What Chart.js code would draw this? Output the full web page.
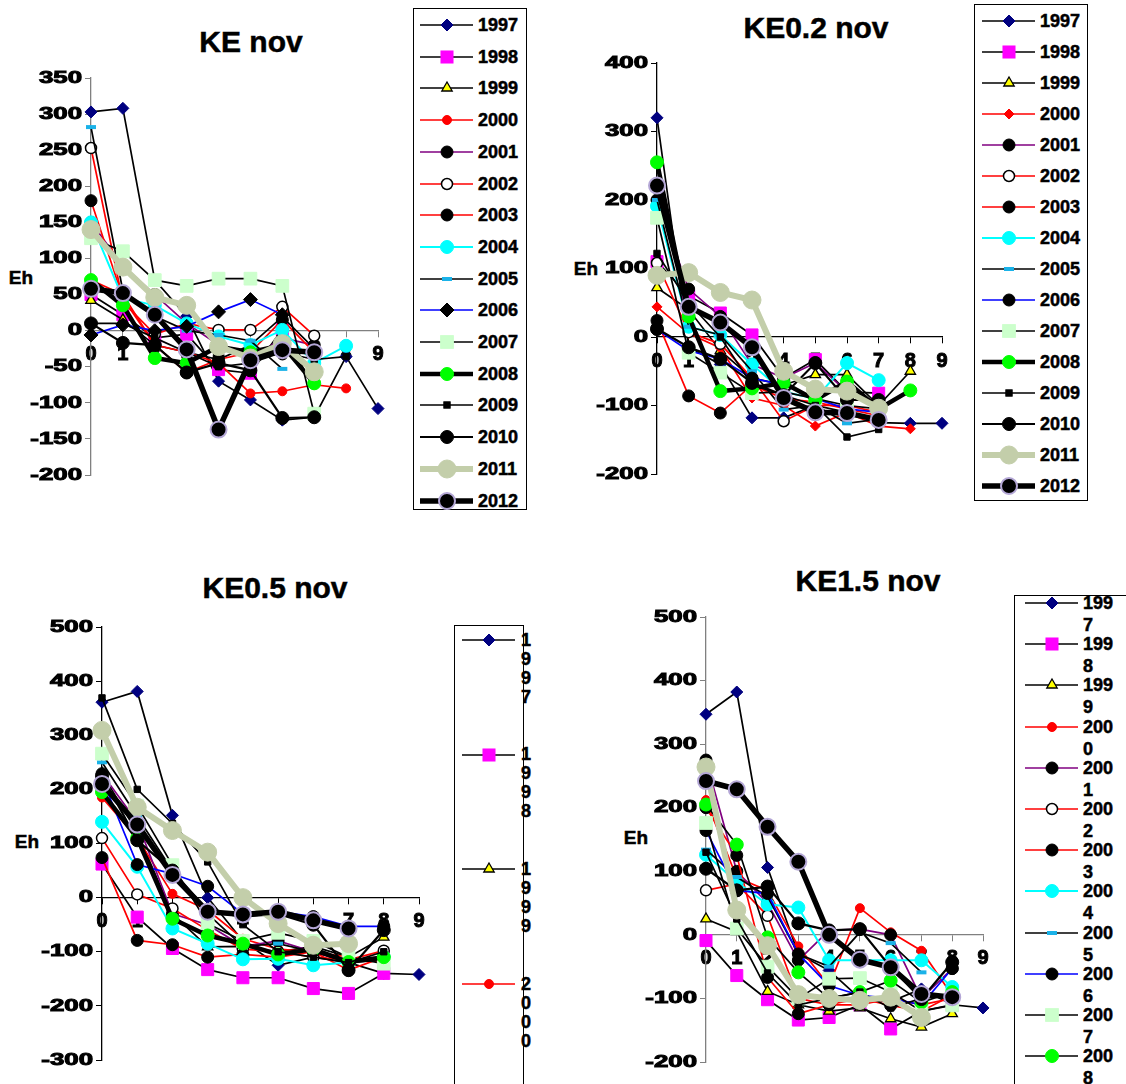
<!DOCTYPE html>
<html>
<head>
<meta charset="utf-8">
<script src="https://cdn.jsdelivr.net/npm/chart.js@4.4.1/dist/chart.umd.min.js"></script>
<style>
   body { margin: 0; width: 1126px; height: 1084px; overflow: hidden; background: #fff; position: relative;
          font-family: 'Liberation Sans', Arial, sans-serif; }
   canvas, .title, .eh, .legend { position: absolute; }
   .title { font-weight: bold; font-size: 30px; line-height: 1; transform: translate(-50%, -50%); white-space: nowrap;
            -webkit-text-stroke: 0.5px #000; }
   .eh { font-weight: bold; font-size: 19px; line-height: 1; transform: translate(-50%, -50%); -webkit-text-stroke: 0.5px #000; }
   .legend { border: 1px solid #000; background: #fff; box-sizing: border-box; }
   .item { position: absolute; left: 0; top: 0; }
   .item svg { position: absolute; }
   .item span { position: absolute; font-weight: bold; font-size: 18px; word-break: break-all; -webkit-text-stroke: 0.5px #000; }
</style>
</head>
<body>
<div class="title" style="left:251px; top:42px">KE nov</div>
<div class="title" style="left:816px; top:28px">KE0.2 nov</div>
<div class="title" style="left:275px; top:588px">KE0.5 nov</div>
<div class="title" style="left:868px; top:581px">KE1.5 nov</div>
<div class="eh" style="left:21px; top:277px">Eh</div>
<div class="eh" style="left:586px; top:268px">Eh</div>
<div class="eh" style="left:27px; top:841px">Eh</div>
<div class="eh" style="left:636px; top:837px">Eh</div>
<canvas id="c0" width="400" height="440" style="left:0px; top:60px"></canvas>
<canvas id="c1" width="400" height="450" style="left:560px; top:45px"></canvas>
<canvas id="c2" width="440" height="479" style="left:0px; top:605px"></canvas>
<canvas id="c3" width="410" height="484" style="left:600px; top:600px"></canvas>
<script>
const years = ['1997', '1998', '1999', '2000', '2001', '2002', '2003', '2004',
   '2005', '2006', '2007', '2008', '2009', '2010', '2011', '2012'];
const xLabels = ['0', '1', '2', '3', '4', '5', '6', '7', '8', '9'];

// one row per year, 1997 .. 2012
const keNov = [
   [303, 308, 70, 20, -70, -96, -124, -120, -36, -108],
   [50, 22, -10, -5, -54, -59, 2],
   [42, 15, -20, -30, -40, -20, 19, -25],
   [70, 50, -20, -30, -45, -87, -84, -75, -80],
   [150, 90, 50, 10, -20, -40, -10, -20],
   [253, 40, -5, 10, 1, 1, 33, -7],
   [180, 45, -20, -58, -40, -30, 15, -30],
   [150, 45, 35, 10, -8, -20, 1, -45, -21],
   [282, 55, 20, 0, -6, -14, -53],
   [-6, 8, 0, 6, 26, 43, 22],
   [128, 110, 70, 62, 72, 72, 62, -115],
   [70, 35, -38, -45, -22, -30, -20, -73],
   [10, 10, -10, -30, -50, -45, -30, -40, -36],
   [10, -17, -20, -58, -45, -55, -121, -120],
   [140, 88, 46, 35, -22, -38, -18, -57],
   [58, 52, 22, -26, -137, -41, -27, -30]
];
const ke02Nov = [
   [320, -15, -40, -118, -118, -100, -110, -125, -126, -126],
   [110, 60, 35, 3, -60, -33, -80, -82],
   [72, 40, -20, -60, -70, -55, -55, -100, -50],
   [44, 5, -16, -89, -100, -130, -110, -130, -134],
   [200, 70, 30, -40, -60, -38, -80, -95],
   [108, 7, -10, -60, -123, -100, -100, -110],
   [24, -86, -111, -70, -90, -95, -105, -115],
   [191, 15, 3, -40, -80, -90, -38, -63],
   [200, 15, 3, -50, -106, -100, -126, -120],
   [11, -20, -32, -60, -70, -90, -105, -110],
   [174, -23, -52, -82, -80, -90, -100, -105],
   [255, 30, -79, -75, -67, -92, -65, -105, -78],
   [122, 50, 0, -70, -85, -100, -146, -135],
   [12, -15, -32, -67, -85, -38, -92, -92],
   [90, 94, 65, 54, -50, -76, -79, -104],
   [221, 44, 21, -15, -89, -110, -111, -121]
];
const ke05Nov = [
   [361, 381, 152, 0, -80, -125, -110, -120, -140, -142],
   [62, -36, -94, -133, -148, -148, -168, -177, -140],
   [230, 120, -30, -91, -90, -100, -90, -110, -73],
   [185, 110, 7, -23, -76, -95, -100, -110, -120],
   [229, 140, -30, -50, -90, -80, -100, -120, -110],
   [110, 6, -20, -60, -95, -100, -110, -115, -98],
   [74, -79, -87, -110, -105, -110, -100, -134, -110],
   [140, 57, -57, -85, -114, -113, -125, -120, -110],
   [250, 150, 50, -30, -90, -85, -100, -120, -115],
   [220, 61, 44, 21, -30, -26, -35, -53, -53],
   [266, 170, 60, -48, -80, -65, -80, -110, -122],
   [195, 110, -39, -70, -85, -105, -95, -119, -110],
   [369, 200, 137, 66, -50, -100, -110, -120, -100],
   [225, 106, 50, -25, -35, -30, -50, -134, -60],
   [309, 167, 124, 84, 0, -48, -88, -85],
   [210, 135, 42, -26, -31, -26, -42, -57]
];
const ke15Nov = [
   [347, 382, 106, -30, -56, -100, -105, -85, -110, -115],
   [-9, -64, -102, -134, -130, -110, -148, -120, -110],
   [25, 5, -89, -110, -120, -115, -132, -145, -124],
   [212, 90, 70, -18, -80, 42, 4, -25, -95],
   [275, 100, 50, -40, 7, 9, 0, -100, -53],
   [70, 80, 30, -100, -110, -110, -100, -110, -100],
   [200, 125, -67, -124, -110, -100, -111, -120, -95],
   [126, 83, 48, 43, -40, -40, -40, -40, -82],
   [134, 91, 60, -30, -50, 4, -13, -59],
   [164, 70, 65, -30, -80, -95, -100, -110, -53],
   [176, 10, -50, -100, -69, -68, -90, -120, -111],
   [205, 142, -4, -59, -100, -90, -72, -106, -90],
   [130, 25, -60, -110, -100, -90, -115, -100, -95],
   [104, 70, 76, 18, 7, 9, -51, -101, -43],
   [264, 39, -17, -94, -100, -103, -98, -130],
   [242, 229, 170, 115, 0, -39, -51, -93, -98]
];

// line and marker look of each year (same order as years)
const seriesStyle = [
   { line: '#000', width: 1.7, point: 'rectRot', radius: 6, fill: '#000080', stroke: '#000080', sw: 1 },
   { line: '#000', width: 1.7, point: 'rect', radius: 8.5, fill: '#ff00ff', stroke: '#ff00ff', sw: 1 },
   { line: '#000', width: 1.7, point: 'triangle', radius: 6, fill: '#ffff00', stroke: '#000', sw: 1.3 },
   { line: '#ff0000', width: 1.7, point: 'circle', radius: 4.5, fill: '#ff0000', stroke: '#ff0000', sw: 1 },
   { line: '#800080', width: 1.7, point: 'circle', radius: 6, fill: '#000', stroke: '#000', sw: 1 },
   { line: '#ff0000', width: 1.7, point: 'circle', radius: 5.5, fill: '#fff', stroke: '#000', sw: 1.5 },
   { line: '#ff0000', width: 1.7, point: 'circle', radius: 6, fill: '#000', stroke: '#000', sw: 1 },
   { line: '#00ffff', width: 2, point: 'circle', radius: 6.5, fill: '#00ffff', stroke: '#00ffff', sw: 1 },
   { line: '#000', width: 1.7, point: 'line', radius: 5, fill: '#33ccff', stroke: '#1ab2e8', sw: 4 },
   { line: '#0000ff', width: 1.7, point: 'circle', radius: 6, fill: '#000', stroke: '#000', sw: 1 },
   { line: '#000', width: 1.7, point: 'rect', radius: 9, fill: '#ccffcc', stroke: '#ccffcc', sw: 1 },
   { line: '#000', width: 4.5, point: 'circle', radius: 6.5, fill: '#00ff00', stroke: '#00ff00', sw: 1 },
   { line: '#000', width: 1.7, point: 'rect', radius: 4.5, fill: '#000', stroke: '#000', sw: 1 },
   { line: '#000', width: 2.2, point: 'circle', radius: 6.5, fill: '#000', stroke: '#000', sw: 1 },
   { line: '#c3ceaa', width: 6, point: 'circle', radius: 9, fill: '#c3ceaa', stroke: '#c3ceaa', sw: 1 },
   { line: '#000', width: 5.5, point: 'circle', radius: 8, fill: '#000', stroke: '#b4a7d6', sw: 2 }
];

// per chart: rows, y range, axis colour, canvas padding, style overrides, legend layout
const charts = [
   { id: 'c0', rows: keNov, min: -200, max: 350, step: 50, axis: '#808080', yWidth: 91,
     pad: { top: 18, right: 22, bottom: 25 }, over: { '2006': { point: 'rectRot', radius: 7 } },
     legend: { left: 413, top: 8, width: 114, height: 502, firstY: 24, step: 31.7, lineX: 420, textX: 478, textW: 60, lh: 20 } },
   { id: 'c1', rows: ke02Nov, min: -200, max: 400, step: 100, axis: '#000', yWidth: 97,
     pad: { top: 18, right: 18, bottom: 21 }, over: { '2000': { point: 'rectRot', radius: 5 } },
     legend: { left: 974, top: 4, width: 114, height: 497, firstY: 20, step: 31, lineX: 982, textX: 1040, textW: 60, lh: 20 } },
   { id: 'c2', rows: ke05Nov, min: -300, max: 500, step: 100, axis: '#000', yWidth: 102,
     pad: { top: 22, right: 21, bottom: 24 }, over: {},
     legend: { left: 454, top: 625, width: 70, height: 480, firstY: 639, step: 114.7, lineX: 462, textX: 521, textW: 12, lh: 19 } },
   { id: 'c3', rows: ke15Nov, min: -200, max: 500, step: 100, axis: '#808080', yWidth: 106,
     pad: { top: 17, right: 27, bottom: 22 }, over: { '2008': { width: 1.7 } },
     legend: { left: 1014, top: 595, width: 130, height: 500, firstY: 602, step: 41.2, lineX: 1025, textX: 1083, textW: 34, lh: 22 } }
];

// value axis whose labels are drawn stretched sideways, like the old spreadsheet export
class WideScale extends Chart.LinearScale {
   drawLabels(chartArea) {
      const ctx = this.ctx;
      const ax = this.right - this.options.grid.tickLength - this.options.ticks.padding;
      ctx.save();
      ctx.translate(ax, 0);
      ctx.scale(1.52, 1);
      ctx.translate(-ax, 0);
      super.drawLabels(chartArea);
      ctx.restore();
   }
}
WideScale.id = 'wide';
WideScale.defaults = Chart.LinearScale.defaults;
Chart.register(WideScale);

function styleFor(i, over) {
   return Object.assign({}, seriesStyle[i], over[years[i]] || {});
}

function makeDatasets(cfg) {
   return years.map((year, i) => {
      const st = styleFor(i, cfg.over);
      return {
         label: year,
         data: cfg.rows[i],
         borderColor: st.line,
         borderWidth: st.width,
         pointStyle: st.point,
         pointRadius: st.radius,
         pointHoverRadius: st.radius,
         pointBackgroundColor: st.fill,
         pointBorderColor: st.stroke,
         pointBorderWidth: st.sw,
         tension: 0,
         clip: false,
         order: years.length - i
      };
   });
}

function markerSvg(st, cx, cy) {
   const r = st.radius;
   if (st.point == 'circle')
      return `<circle cx="${cx}" cy="${cy}" r="${r}" fill="${st.fill}" stroke="${st.stroke}" stroke-width="${st.sw}"/>`;
   if (st.point == 'rect') {
      const s = r * Math.SQRT1_2;
      return `<rect x="${cx - s}" y="${cy - s}" width="${2 * s}" height="${2 * s}" fill="${st.fill}" stroke="${st.stroke}" stroke-width="${st.sw}"/>`;
   }
   if (st.point == 'rectRot')
      return `<polygon points="${cx},${cy - r} ${cx + r},${cy} ${cx},${cy + r} ${cx - r},${cy}" fill="${st.fill}" stroke="${st.stroke}" stroke-width="${st.sw}"/>`;
   if (st.point == 'triangle') {
      const dx = r * Math.sin(Math.PI / 3), dy = r * Math.cos(Math.PI / 3);
      return `<polygon points="${cx},${cy - r} ${cx + dx},${cy + dy} ${cx - dx},${cy + dy}" fill="${st.fill}" stroke="${st.stroke}" stroke-width="${st.sw}"/>`;
   }
   return `<line x1="${cx - r}" y1="${cy}" x2="${cx + r}" y2="${cy}" stroke="${st.stroke}" stroke-width="${st.sw}"/>`;
}

function buildLegend(cfg) {
   const lg = cfg.legend;
   const box = document.createElement('div');
   box.className = 'legend';
   box.style.cssText = `left:${lg.left}px; top:${lg.top}px; width:${lg.width}px; height:${lg.height}px`;
   years.forEach((year, i) => {
      const st = styleFor(i, cfg.over);
      const y = lg.firstY + i * lg.step - lg.top;
      const item = document.createElement('div');
      item.className = 'item';
      item.innerHTML =
         `<svg width="56" height="24" style="left:${lg.lineX - lg.left - 1}px; top:${y - 12}px">` +
         `<line x1="0" y1="12" x2="53" y2="12" stroke="${st.line}" stroke-width="${st.width}"/>` +
         markerSvg(st, 27, 12) + '</svg>' +
         `<span style="left:${lg.textX - lg.left - 1}px; top:${y - lg.lh / 2}px; width:${lg.textW}px; line-height:${lg.lh}px">${year}</span>`;
      box.appendChild(item);
   });
   document.body.appendChild(box);
}

function createChart(cfg) {
   const ctx = document.getElementById(cfg.id).getContext('2d');
   new Chart(ctx, {
      type: 'line',
      data: { labels: xLabels, datasets: makeDatasets(cfg) },
      options: {
         responsive: false,
         animation: false,
         devicePixelRatio: 1,
         layout: { padding: { left: 0, top: cfg.pad.top, right: cfg.pad.right, bottom: cfg.pad.bottom } },
         plugins: { legend: { display: false }, tooltip: { enabled: false } },
         scales: {
            x: {
               type: 'category',
               position: { y: 0 },
               offset: false,
               grid: { display: true, drawOnChartArea: false, drawTicks: true, tickLength: 6, color: cfg.axis },
               border: { display: true, color: cfg.axis, width: 1.3 },
               ticks: { color: '#000', padding: 6, autoSkip: false, maxRotation: 0,
                  textStrokeColor: '#000', textStrokeWidth: 1,
                  font: { family: 'Liberation Sans', size: 20, weight: 'bold' } },
               afterFit: s => { s.paddingLeft = 0; s.paddingRight = 0; }
            },
            y: {
               type: 'wide',
               position: 'left',
               min: cfg.min,
               max: cfg.max,
               grid: { display: true, drawOnChartArea: false, drawTicks: true, tickLength: 6, color: cfg.axis },
               border: { display: true, color: cfg.axis, width: 1.3 },
               ticks: { stepSize: cfg.step, color: '#000', padding: 3,
                  textStrokeColor: '#000', textStrokeWidth: 1,
                  font: { family: 'Liberation Sans', size: 17, weight: 'bold' } },
               afterFit: s => { s.width = cfg.yWidth; s.paddingTop = 0; s.paddingBottom = 0; }
            }
         }
      }
   });
   buildLegend(cfg);
}

charts.forEach(createChart);
</script>
</body>
</html>
